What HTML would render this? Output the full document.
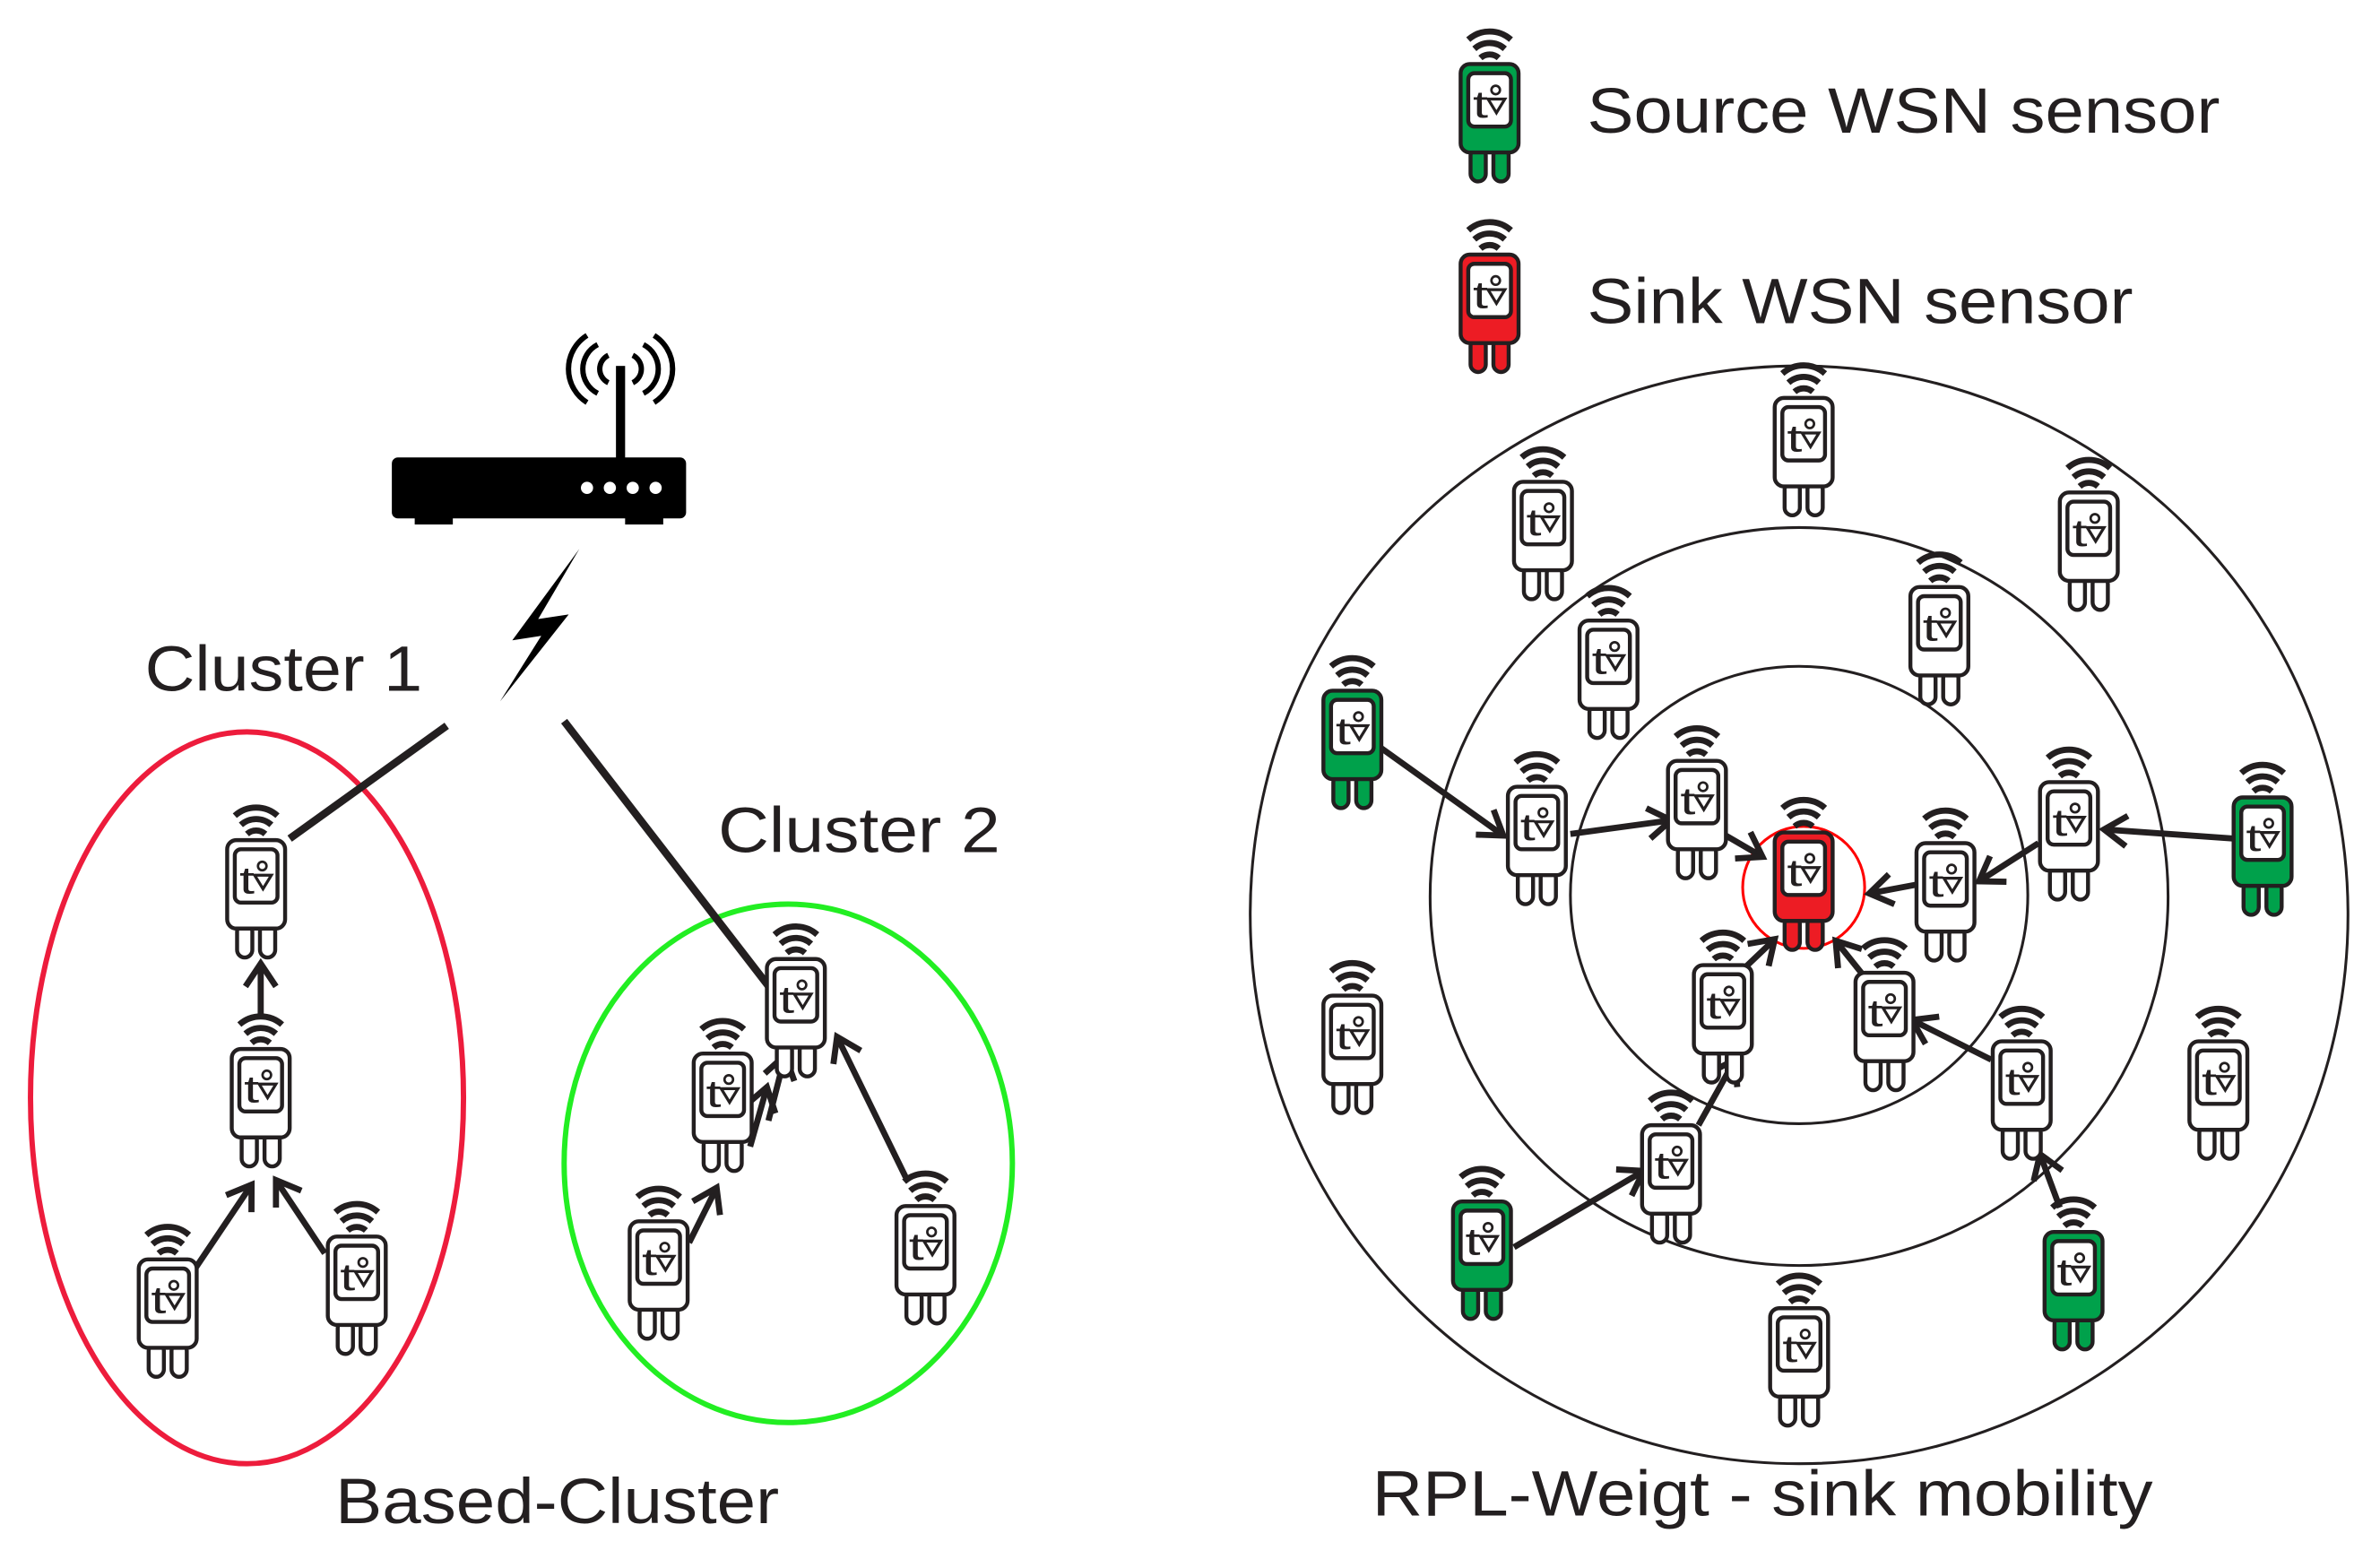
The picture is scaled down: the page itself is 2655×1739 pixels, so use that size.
<!DOCTYPE html>
<html><head><meta charset="utf-8"><style>
html,body{margin:0;padding:0;background:#fff;}
svg{display:block;}
text{font-family:"Liberation Sans",Arial,sans-serif;fill:#231f20;}
</style></head><body>
<svg width="2655" height="1739" viewBox="0 0 1561 1022.5" preserveAspectRatio="none" xmlns="http://www.w3.org/2000/svg">
<defs>
<marker id="ah" viewBox="-20 -12 24 24" markerWidth="24" markerHeight="24" refX="0" refY="0" orient="auto" markerUnits="userSpaceOnUse">
<path d="M-15,-10 L0,0 L-15,10" fill="none" stroke="#231f20" stroke-width="4"/>
</marker>
<g id="wifi" fill="none" stroke="#231f20" stroke-width="4">
<path d="M-6,-33 A9,9 0 0 1 6,-33"/>
<path d="M-10,-39 A15,15 0 0 1 10,-39"/>
<path d="M-14,-45 A21,21 0 0 1 14,-45"/>
</g>
<g id="face">
<rect x="-14" y="-23" width="28" height="35" rx="4" fill="#fff" stroke="#231f20" stroke-width="2.6"/>
<text x="-11" y="6" font-size="25" textLength="10" lengthAdjust="spacingAndGlyphs">t</text>
<circle cx="4" cy="-12" r="2.8" fill="none" stroke="#231f20" stroke-width="1.6"/>
<path d="M-1,-6 L10,-6 L4.5,3 Z" fill="none" stroke="#231f20" stroke-width="1.9"/>
</g>
<g id="sw">
<use href="#wifi"/>
<rect x="-12.5" y="26" width="10" height="22" rx="5" fill="#fff" stroke="#231f20" stroke-width="2.6"/>
<rect x="2.5" y="26" width="10" height="22" rx="5" fill="#fff" stroke="#231f20" stroke-width="2.6"/>
<rect x="-19" y="-29" width="38" height="58" rx="6" fill="#fff" stroke="#231f20" stroke-width="2.6"/>
<use href="#face"/>
</g>
<g id="sg">
<use href="#wifi"/>
<rect x="-12.5" y="26" width="10" height="22" rx="5" fill="#00a14b" stroke="#231f20" stroke-width="2.6"/>
<rect x="2.5" y="26" width="10" height="22" rx="5" fill="#00a14b" stroke="#231f20" stroke-width="2.6"/>
<rect x="-19" y="-29" width="38" height="58" rx="6" fill="#00a14b" stroke="#231f20" stroke-width="2.6"/>
<use href="#face"/>
</g>
<g id="sr">
<use href="#wifi"/>
<rect x="-12.5" y="26" width="10" height="22" rx="5" fill="#ed1c24" stroke="#231f20" stroke-width="2.6"/>
<rect x="2.5" y="26" width="10" height="22" rx="5" fill="#ed1c24" stroke="#231f20" stroke-width="2.6"/>
<rect x="-19" y="-29" width="38" height="58" rx="6" fill="#ed1c24" stroke="#231f20" stroke-width="2.6"/>
<use href="#face"/>
</g>
</defs>

<g fill="none" stroke="#231f20" stroke-width="1.8">
<circle cx="1180" cy="600" r="360"/>
<circle cx="1180" cy="588" r="242"/>
<circle cx="1180" cy="587" r="150"/>
</g>
<circle cx="1183" cy="582" r="40" fill="none" stroke="#ff0000" stroke-width="1.8"/>

<ellipse cx="162" cy="720" rx="142" ry="240" fill="none" stroke="#ed1c3c" stroke-width="3.5"/>
<ellipse cx="517" cy="763" rx="147" ry="170" fill="none" stroke="#22ee22" stroke-width="3.5"/>

<rect x="257" y="300" width="193" height="40" rx="4" fill="#000"/>
<rect x="272" y="336" width="25" height="8" fill="#000"/>
<rect x="410" y="336" width="25" height="8" fill="#000"/>
<rect x="404" y="240" width="6" height="62" fill="#000"/>
<g fill="#fff"><circle cx="385" cy="320" r="4"/><circle cx="400" cy="320" r="4"/><circle cx="415" cy="320" r="4"/><circle cx="430" cy="320" r="4"/></g>
<g fill="none" stroke="#000" stroke-width="3.5">
<path d="M399,233 A10,10 0 0 0 399,251"/><path d="M392,226 A18,18 0 0 0 392,258"/><path d="M385,220 A26,26 0 0 0 385,264"/>
<path d="M415,233 A10,10 0 0 1 415,251"/><path d="M422,226 A18,18 0 0 1 422,258"/><path d="M429,220 A26,26 0 0 1 429,264"/>
</g>
<polygon points="380,360 336,420 355,417 328,460 373,403 353,406" fill="#000"/>

<g stroke="#231f20" stroke-width="5">
<line x1="190" y1="550" x2="293" y2="476"/>
<line x1="370" y1="473" x2="505" y2="648"/>
</g>

<g stroke="#231f20" stroke-width="4" marker-end="url(#ah)">
<line x1="171" y1="668" x2="171" y2="632"/>
<line x1="128" y1="832" x2="165" y2="777"/>
<line x1="213" y1="822" x2="181" y2="774"/>
<line x1="452" y1="815" x2="470" y2="779"/>
<line x1="492" y1="752" x2="503" y2="713"/>
<line x1="504" y1="735" x2="515" y2="692"/>
<line x1="594" y1="772" x2="549" y2="680"/>
<line x1="905" y1="490" x2="986" y2="548"/>
<line x1="1030" y1="547" x2="1096" y2="538"/>
<line x1="1132" y1="548" x2="1156" y2="562"/>
<line x1="1258" y1="580" x2="1226" y2="586"/>
<line x1="1337" y1="553" x2="1298" y2="578"/>
<line x1="1465" y1="550" x2="1380" y2="544"/>
<line x1="1143" y1="636" x2="1164" y2="616"/>
<line x1="1224" y1="642" x2="1204" y2="617"/>
<line x1="1306" y1="695" x2="1254" y2="669"/>
<line x1="993" y1="818" x2="1078" y2="768"/>
<line x1="1114" y1="738" x2="1138" y2="695"/>
<line x1="1351" y1="792" x2="1338" y2="757"/>
</g>

<use href="#sg" x="977" y="71"/>
<use href="#sr" x="977" y="196"/>
<use href="#sw" x="168" y="580"/>
<use href="#sw" x="171" y="717"/>
<use href="#sw" x="110" y="855"/>
<use href="#sw" x="234" y="840"/>
<use href="#sw" x="522" y="658"/>
<use href="#sw" x="474" y="720"/>
<use href="#sw" x="432" y="830"/>
<use href="#sw" x="607" y="820"/>
<use href="#sw" x="1183" y="290"/>
<use href="#sw" x="1012" y="345"/>
<use href="#sw" x="1370" y="352"/>
<use href="#sw" x="1055" y="436"/>
<use href="#sw" x="1272" y="414"/>
<use href="#sg" x="887" y="482"/>
<use href="#sw" x="1008" y="545"/>
<use href="#sw" x="1113" y="528"/>
<use href="#sr" x="1183" y="575"/>
<use href="#sw" x="1276" y="582"/>
<use href="#sw" x="1357" y="542"/>
<use href="#sg" x="1484" y="552"/>
<use href="#sw" x="1130" y="662"/>
<use href="#sw" x="1236" y="667"/>
<use href="#sw" x="887" y="682"/>
<use href="#sw" x="1326" y="712"/>
<use href="#sw" x="1455" y="712"/>
<use href="#sw" x="1096" y="767"/>
<use href="#sg" x="972" y="817"/>
<use href="#sg" x="1360" y="837"/>
<use href="#sw" x="1180" y="887"/>

<text x="1041" y="87" font-size="42" textLength="415" lengthAdjust="spacingAndGlyphs">Source WSN sensor</text>
<text x="1041" y="212" font-size="42" textLength="358" lengthAdjust="spacingAndGlyphs">Sink WSN sensor</text>
<text x="95" y="453" font-size="42" textLength="182" lengthAdjust="spacingAndGlyphs">Cluster 1</text>
<text x="471" y="559" font-size="42" textLength="185" lengthAdjust="spacingAndGlyphs">Cluster 2</text>
<text x="220" y="999" font-size="42" textLength="291" lengthAdjust="spacingAndGlyphs">Based-Cluster</text>
<text x="900" y="994" font-size="42" textLength="512" lengthAdjust="spacingAndGlyphs">RPL-Weigt - sink mobility</text>
</svg>
</body></html>
